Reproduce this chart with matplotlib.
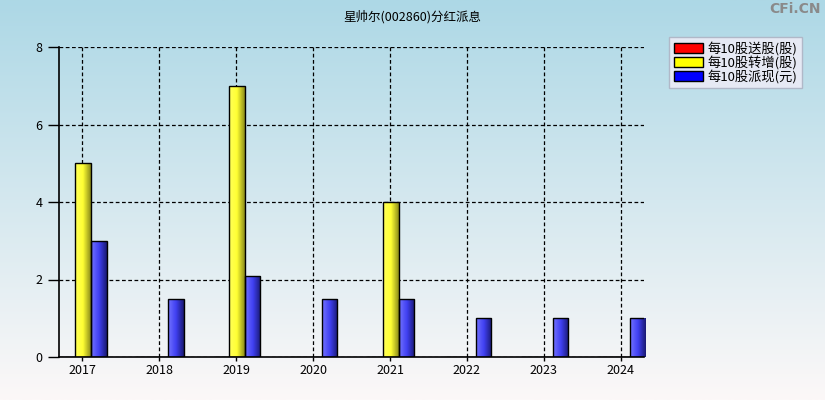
import numpy as np
import matplotlib
matplotlib.use("Agg")
import matplotlib.pyplot as plt
from matplotlib.patches import Patch
from matplotlib.colors import LinearSegmentedColormap

plt.rcParams['font.family'] = ['Noto Sans CJK SC', 'DejaVu Sans']

years = ['2017', '2018', '2019', '2020', '2021', '2022', '2023', '2024']
song = [0, 0, 0, 0, 0, 0, 0, 0]            # 每10股送股(股)
zhuan = [5, 0, 7, 0, 4, 0, 0, 0]           # 每10股转增(股)
pai = [3, 1.5, 2.1, 1.5, 1.5, 1.0, 1.0, 1.0]  # 每10股派现(元)
series_names = ['每10股送股(股)', '每10股转增(股)', '每10股派现(元)']
title = '星帅尔(002860)分红派息'

W, H = 825, 400
fig = plt.figure(figsize=(W / 100, H / 100), dpi=100)

# background gradient
bg = fig.add_axes([0, 0, 1, 1], zorder=-10)
top = np.array([173, 216, 230]) / 255
bot = np.array([252, 248, 248]) / 255
t = np.linspace(0, 1, 256)[:, None]
grad = top[None, :] * (1 - t) + bot[None, :] * t
bg.imshow(grad[:, None, :], aspect='auto', extent=[0, 1, 0, 1])
bg.axis('off')

ax = fig.add_axes([59 / W, (H - 357) / H, (644 - 59) / W, (357 - 47) / H])
ax.patch.set_alpha(0)

x = np.arange(len(years))
bw = 0.205
offsets = [-0.195, 0.01, 0.215]
cmaps = [
    LinearSegmentedColormap.from_list('r', [(1, 0.35, 0.35), (0.5, 0, 0)]),
    LinearSegmentedColormap.from_list('y', [(1, 1, 0.35), (1, 1, 0.2), (0.55, 0.55, 0.1)]),
    LinearSegmentedColormap.from_list('b', [(0.45, 0.45, 1), (0.25, 0.25, 0.95), (0.1, 0.1, 0.45)]),
]
face = ['#ff0000', '#ffff00', '#0000ff']
gx = np.linspace(0, 1, 64)[None, :]
for vals, off, cm in zip([song, zhuan, pai], offsets, cmaps):
    bars = ax.bar(x + off, vals, width=bw, color='none', edgecolor='black',
                  linewidth=1, zorder=3)
    for b in bars:
        h = b.get_height()
        if h <= 0:
            continue
        x0 = b.get_x()
        im = ax.imshow(gx, cmap=cm, aspect='auto',
                       extent=[x0, x0 + b.get_width(), 0, h], zorder=2.5)
        im.set_clip_path(b)

ax.set_xlim(-0.3, 7.3)
ax.set_ylim(0, 8)
ax.set_yticks([0, 2, 4, 6, 8])
ax.set_xticks(x)
ax.set_xticklabels(years)
ax.grid(True, color='black', linestyle=(0, (3, 2)), linewidth=0.9, zorder=1)
ax.set_axisbelow(True)
for s in ['top', 'right']:
    ax.spines[s].set_visible(False)
for s in ['left', 'bottom']:
    ax.spines[s].set_linewidth(1.2)
ax.tick_params(axis='y', length=8, width=1, labelsize=9, pad=4)
ax.tick_params(axis='x', length=3, width=1, labelsize=9, pad=2)

fig.text(0.5, 1 - 17 / H, title, ha='center', va='center', fontsize=9)
fig.text(1 - 4 / W, 1 - 9 / H, 'CFi.CN', ha='right', va='center', fontsize=10,
         color='#8a8a8a', fontweight='bold', family='DejaVu Sans')

handles = [Patch(facecolor=c, edgecolor='black', linewidth=1) for c in face]
leg = fig.legend(handles, series_names, loc='upper left',
                 bbox_to_anchor=(669 / W, 1 - 37 / H), fontsize=9.5,
                 frameon=True, fancybox=False, borderpad=0.35,
                 handlelength=2.2, handleheight=0.75, handletextpad=0.4,
                 labelspacing=0.0, borderaxespad=0)
leg.get_frame().set_facecolor('#e6e9f4')
leg.get_frame().set_edgecolor('#b0b8c8')
leg.get_frame().set_alpha(1)

fig.savefig('out.png', dpi=100)
